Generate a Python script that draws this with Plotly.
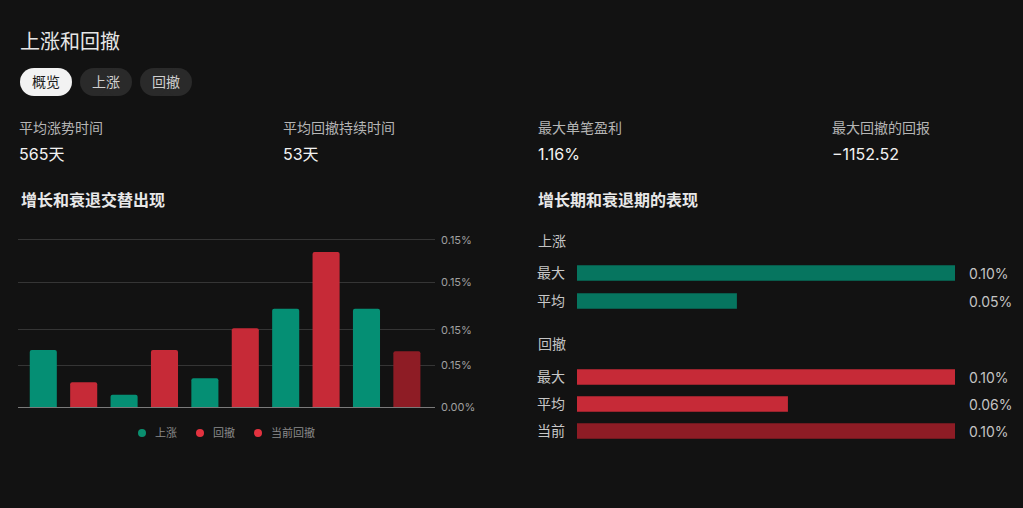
import plotly.graph_objects as go

W, H = 1023, 508

# ---------------- data ----------------
bar_periods = ["P1", "P2", "P3", "P4", "P5", "P6", "P7", "P8", "P9", "P10"]
bar_kinds = ["上涨", "回撤", "上涨", "回撤", "上涨", "回撤", "上涨", "回撤", "上涨", "当前回撤"]
bar_values = [0.0514, 0.0224, 0.0113, 0.0514, 0.0260, 0.0708, 0.0884, 0.1392, 0.0884, 0.0502]
y_tickvals = [0.0, 0.0379, 0.0693, 0.1123, 0.15]
y_ticktext = ["0.00%", "0.15%", "0.15%", "0.15%", "0.15%"]

up_rows = ["最大", "平均"]
up_values = [0.100, 0.0423]
up_labels = ["0.10%", "0.05%"]

down_rows = ["最大", "平均", "当前"]
down_values = [0.100, 0.0558, 0.100]
down_labels = ["0.10%", "0.06%", "0.10%"]

stats_labels = ["平均涨势时间", "平均回撤持续时间", "最大单笔盈利", "最大回撤的回报"]
stats_values = ["565天", "53天", "1.16%", "−1152.52"]
tabs = ["概览", "上涨", "回撤"]

# ---------------- style ----------------
BG = "#121212"
GREEN = "#058f74"
GREEN_H = "#06755f"
RED = "#c62a37"
DARK_RED = "#8e1c25"
DOT_GREEN = "#0a8f6f"
DOT_RED = "#e3323f"
FONT = "Inter, 'Noto Sans CJK SC', sans-serif"


def px(x):
    return x / W


def py(y):
    return 1 - y / H


kind_color = {"上涨": GREEN, "回撤": RED, "当前回撤": DARK_RED}

fig = go.Figure()

for kind in ["上涨", "回撤", "当前回撤"]:
    xs = [p for p, k in zip(bar_periods, bar_kinds) if k == kind]
    ys = [v for v, k in zip(bar_values, bar_kinds) if k == kind]
    fig.add_trace(go.Bar(
        x=xs, y=ys, name=kind, width=0.67,
        marker=dict(color=kind_color[kind], line=dict(width=0), cornerradius=2),
        xaxis="x", yaxis="y", showlegend=False, hoverinfo="skip",
    ))

fig.add_trace(go.Bar(
    x=up_values, y=up_rows, orientation="h", width=0.56,
    marker=dict(color=GREEN_H, line=dict(width=0)),
    xaxis="x2", yaxis="y2", showlegend=False, hoverinfo="skip",
))
fig.add_trace(go.Bar(
    x=down_values, y=down_rows, orientation="h", width=0.58,
    marker=dict(color=[RED, RED, DARK_RED], line=dict(width=0)),
    xaxis="x3", yaxis="y3", showlegend=False, hoverinfo="skip",
))

# ---------------- annotations ----------------
ann = []


def text(x, y, s, size, color, anchor="left", weight=None):
    d = dict(x=px(x), y=py(y), xref="paper", yref="paper", text=s, showarrow=False,
             xanchor=anchor, yanchor="middle",
             font=dict(family=FONT, size=size, color=color))
    if weight:
        d["font"]["weight"] = weight
    ann.append(d)


text(18, 42, "上涨和回撤", 20, "#e6e6e6")

shapes = []
tab_x = [20, 80, 140]
for i, (t, x0) in enumerate(zip(tabs, tab_x)):
    fill = "#f2f2f2" if i == 0 else "#2a2a2a"
    tcol = "#1a1a1a" if i == 0 else "#cfcfcf"
    x1 = x0 + 52
    y0, y1 = 68, 96
    r = 14
    shapes.append(dict(type="rect", xref="paper", yref="paper",
                       x0=px(x0 + r), x1=px(x1 - r), y0=py(y1), y1=py(y0),
                       fillcolor=fill, line=dict(width=0), layer="below"))
    for cx in (x0 + r, x1 - r):
        shapes.append(dict(type="circle", xref="paper", yref="paper",
                           x0=px(cx - r), x1=px(cx + r), y0=py(y1), y1=py(y0),
                           fillcolor=fill, line=dict(width=0), layer="below"))
    text(x0 + 26, 82, t, 14, tcol, anchor="center")

stat_x = [17, 281, 536, 830]
for x, lab, val in zip(stat_x, stats_labels, stats_values):
    text(x, 127, lab, 14, "#b5b5b5")
    text(x, 154, val, 16, "#f2f2f2")

text(19, 200, "增长和衰退交替出现", 16, "#e8e8e8", weight=600)
text(536, 200, "增长期和衰退期的表现", 16, "#e8e8e8", weight=600)

text(536, 240, "上涨", 14, "#c4c4c4")
text(536, 343, "回撤", 14, "#c4c4c4")

for row, lab in zip(up_rows, up_labels):
    ann.append(dict(x=px(967), xref="paper", y=row, yref="y2", text=lab, showarrow=False,
                    xanchor="left", yanchor="middle",
                    font=dict(family=FONT, size=14, color="#c4c4c4")))
for row, lab in zip(down_rows, down_labels):
    ann.append(dict(x=px(967), xref="paper", y=row, yref="y3", text=lab, showarrow=False,
                    xanchor="left", yanchor="middle",
                    font=dict(family=FONT, size=14, color="#c4c4c4")))

# manual legend
legend_items = [("上涨", DOT_GREEN, 142), ("回撤", DOT_RED, 200), ("当前回撤", DOT_RED, 258)]
for name, col, x in legend_items:
    shapes.append(dict(type="circle", xref="paper", yref="paper",
                       x0=px(x - 4), x1=px(x + 4), y0=py(437), y1=py(429),
                       fillcolor=col, line=dict(width=0)))
    text(x + 11, 433, name, 11, "#8a8a8a")

fig.update_layout(
    width=W, height=H,
    margin=dict(l=0, r=0, t=0, b=0, pad=0, autoexpand=False),
    paper_bgcolor=BG, plot_bgcolor=BG,
    barmode="overlay",
    font=dict(family=FONT, color="#cccccc"),
    showlegend=False,
    xaxis=dict(domain=[px(18), px(435)], type="category", automargin=False,
               categoryorder="array", categoryarray=bar_periods,
               range=[-0.626, 9.696], showticklabels=False, showgrid=False,
               zeroline=False, showline=True, linecolor="#7a7a7a", linewidth=1,
               ticks="", fixedrange=True),
    yaxis=dict(domain=[py(407.3), py(228.8)], range=[0, 0.16], side="right",
               automargin=False, tickvals=y_tickvals, ticktext=y_ticktext,
               tickfont=dict(family=FONT, size=11, color="#a0a0a0"),
               showgrid=True, gridcolor="#353535", gridwidth=1, zeroline=False,
               showline=False, ticks="", ticklabelstandoff=5, fixedrange=True),
    xaxis2=dict(domain=[px(577), px(955)], range=[0, 0.100], visible=False,
                automargin=False, anchor="y2", fixedrange=True),
    yaxis2=dict(domain=[py(315), py(259)], type="category", categoryarray=up_rows,
                categoryorder="array", autorange="reversed", anchor="x2",
                automargin=False, showgrid=False, zeroline=False, showline=False, ticks="",
                tickfont=dict(family=FONT, size=14, color="#c8c8c8"),
                ticklabelstandoff=11, fixedrange=True),
    xaxis3=dict(domain=[px(577), px(955)], range=[0, 0.100], visible=False,
                automargin=False, anchor="y3", fixedrange=True),
    yaxis3=dict(domain=[py(444.5), py(363.5)], type="category", categoryarray=down_rows,
                categoryorder="array", autorange="reversed", anchor="x3",
                automargin=False, showgrid=False, zeroline=False, showline=False, ticks="",
                tickfont=dict(family=FONT, size=14, color="#c8c8c8"),
                ticklabelstandoff=11, fixedrange=True),
    annotations=ann,
    shapes=shapes,
)

fig.write_html(
    "out.html", config={"displayModeBar": False},
    post_script=(
        "var s=document.createElement('style');"
        "s.textContent='html,body{margin:0;padding:0;overflow:hidden;background:#121212;}';"
        "document.head.appendChild(s);"
    ),
)
